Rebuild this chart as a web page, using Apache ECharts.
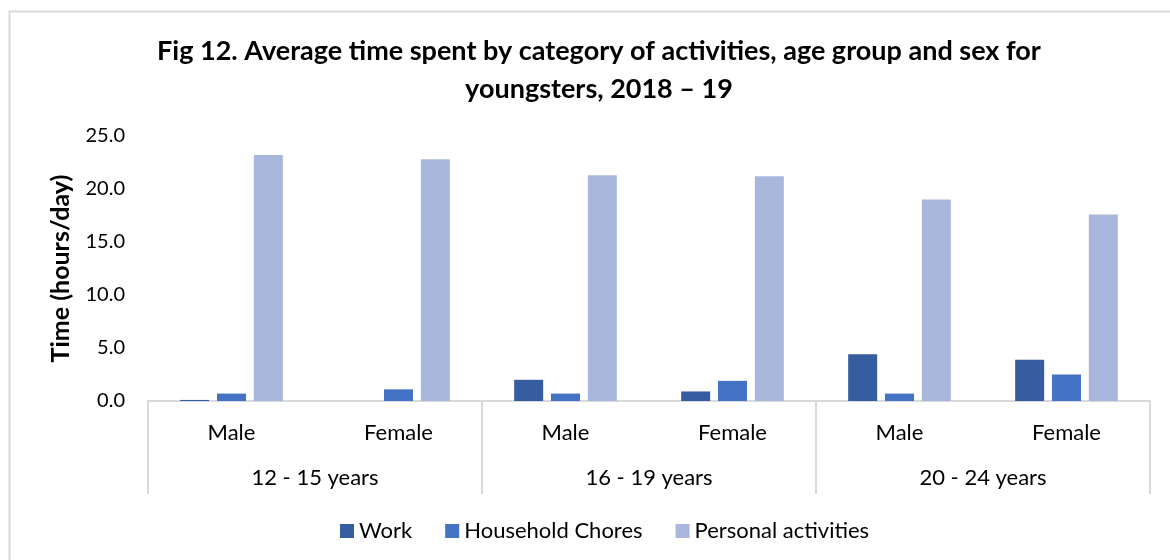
<!DOCTYPE html>
<html>
<head>
<meta charset="utf-8">
<script src="https://cdn.jsdelivr.net/npm/echarts@6/dist/echarts.min.js"></script>
<style>
    html, body { margin: 0; padding: 0; background: #fff; }
    #chart { width: 1170px; height: 560px; }
</style>
</head>
<body>
<div id="chart"></div>
<script>
// categories
const sexes = ['Male', 'Female', 'Male', 'Female', 'Male', 'Female'];
const ageGroups = ['12 - 15 years', '16 - 19 years', '20 - 24 years'];
const seriesNames = ['Work', 'Household Chores', 'Personal activities'];

// hours per day
const work = [0.1, 0.0, 2.0, 0.9, 4.4, 3.9];
const household = [0.7, 1.1, 0.7, 1.9, 0.7, 2.5];
const personal = [23.2, 22.8, 21.3, 21.2, 19.0, 17.6];

const colors = ['#355d9f', '#4472c4', '#a9b7dc'];
const font = 'Lato, "Open Sans", sans-serif';
const lineColor = '#d9d9d9';

let chart = echarts.init(document.getElementById('chart'));

let option = {
    color: colors,
    textStyle: { fontFamily: font, color: '#000' },
    title: {
        text: 'Fig 12. Average time spent by category of activities, age group and sex for\nyoungsters, 2018 \u2013 19',
        left: 594,
        top: 27,
        textAlign: 'center',
        textStyle: { fontFamily: font, fontSize: 27, fontWeight: 'bold', color: '#000', lineHeight: 38 }
    },
    legend: {
        data: seriesNames,
        left: 335,
        top: 515,
        icon: 'rect',
        itemWidth: 14,
        itemHeight: 14,
        itemGap: 33,
        textStyle: { fontFamily: font, fontSize: 22, color: '#000' }
    },
    grid: { left: 148, right: 20, top: 136, bottom: 159 },
    xAxis: [
        {
            type: 'category',
            data: sexes,
            axisLine: { lineStyle: { color: lineColor, width: 2 } },
            axisTick: { show: false },
            axisLabel: { fontFamily: font, fontSize: 22, color: '#000', margin: 21 }
        },
        {
            type: 'category',
            data: ageGroups,
            position: 'bottom',
            axisLine: { show: false },
            axisTick: { show: true, length: 93, lineStyle: { color: lineColor, width: 2 } },
            axisLabel: { fontFamily: font, fontSize: 22, color: '#000', margin: 66 }
        }
    ],
    yAxis: {
        type: 'value',
        min: 0,
        max: 25,
        interval: 5,
        name: 'Time (hours/day)',
        nameLocation: 'middle',
        nameGap: 75,
        nameTextStyle: { fontFamily: font, fontSize: 25, fontWeight: 'bold', color: '#000' },
        axisLine: { show: false },
        axisTick: { show: false },
        splitLine: { show: false },
        axisLabel: {
            fontFamily: font, fontSize: 20, color: '#000', margin: 23,
            formatter: v => v.toFixed(1)
        }
    },
    graphic: [{
        type: 'rect',
        silent: true,
        shape: { x: 9.5, y: 11.5, width: 1300, height: 700 },
        style: { fill: 'none', stroke: lineColor, lineWidth: 2 }
    }],
    series: [
        { name: seriesNames[0], type: 'bar', data: work, barWidth: 29, barGap: '27%' },
        { name: seriesNames[1], type: 'bar', data: household, barWidth: 29, barGap: '27%' },
        { name: seriesNames[2], type: 'bar', data: personal, barWidth: 29, barGap: '27%' }
    ]
};

chart.setOption(option);
window.onresize = () => chart.resize();
</script>
</body>
</html>
